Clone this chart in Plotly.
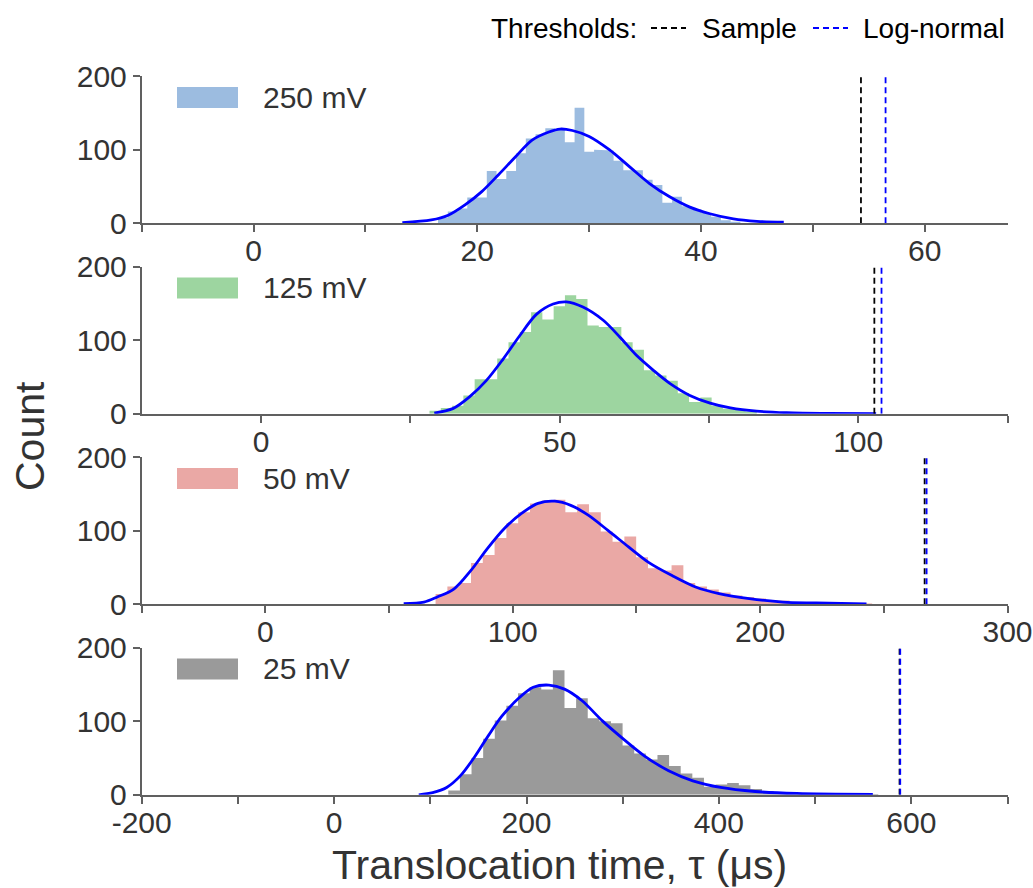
import plotly.graph_objects as go

# ---------------- data ----------------
labels = ["250 mV", "125 mV", "50 mV", "25 mV"]
bar_colors = ["#9cbce0", "#9dd5a0", "#eaa8a5", "#9a9a9a"]

# histogram bins: first left edge and bin width, plus counts
bin_start_250, bin_width_250 = 16.49, 0.872
counts_250 = [8, 16, 20, 35, 35, 71, 60, 71, 95, 115, 121, 129, 127, 110, 157, 97,
              100, 99, 85, 72, 72, 59, 52, 28, 36, 23, 19, 14, 9, 4, 2]

bin_start_125, bin_width_125 = 28.2, 1.89
counts_125 = [4, 8, 11, 25, 47, 47, 75, 97, 111, 138, 128, 146, 161, 156, 120, 118,
              118, 97, 87, 59, 52, 45, 28, 16, 22, 11, 7, 5, 3]

bin_start_50, bin_width_50 = 68.8, 4.77
counts_50 = [14, 24, 29, 56, 67, 90, 110, 125, 137, 141, 142, 125, 136, 125, 99, 85,
             92, 64, 49, 46, 53, 29, 24, 20, 16, 12, 10, 8, 6, 5, 3, 3, 2, 1, 1, 1, 1]

bin_start_25, bin_width_25 = 118.7, 12.08
counts_25 = [6, 28, 50, 76, 101, 121, 138, 146, 143, 169, 118, 131, 104, 100, 97, 67,
             56, 48, 54, 39, 29, 23, 11, 14, 16, 13, 8, 5, 3, 2, 2, 1, 1, 1, 1, 1, 1]

# fitted log-normal curves
fit_x_250 = [13.3, 15.9, 17.4, 18.9, 20.4, 21.9, 23.4, 24.9, 26.4, 27.4, 28.5, 30.0,
             31.8, 33.6, 35.4, 37.2, 39.0, 40.8, 42.9, 45.0, 47.4]
fit_y_250 = [1, 4.5, 11, 25, 43, 66, 90, 113, 124, 128, 126, 118, 100, 77, 54, 36,
             22, 13, 6, 2.7, 1.4]

fit_x_125 = [29, 32.1, 34.9, 37.7, 40.5, 43.3, 46.1, 48.9, 51.1, 53.9, 57.3, 60.1,
             62.9, 65.7, 68.5, 71.8, 75.2, 78.6, 83, 88, 95, 103]
fit_y_125 = [1, 7, 23, 45, 74, 106, 135, 149, 152, 145, 127, 104, 79, 59, 41, 25,
             14.5, 8, 3.6, 1.5, 0.5, 0.2]

fit_x_50 = [55.9, 64.1, 69.5, 76.3, 83.1, 89.8, 96.6, 103.4, 110.2, 117, 123.7, 130.5,
            138.6, 146.8, 154.9, 164.4, 173.9, 183.4, 195.6, 209.2, 222.7, 243]
fit_y_50 = [1, 3, 10, 21, 46, 76, 103, 123, 137, 140, 134, 121, 100, 78, 57, 39,
            23.5, 14.5, 7.7, 3, 1.8, 0.5]

fit_x_25 = [88, 102.5, 117, 131.4, 145.8, 160.2, 174.6, 192.6, 207, 223.3, 239.5,
            257.5, 279.2, 300.8, 322.4, 347.7, 372.9, 401.7, 437.8, 481, 560]
fit_y_25 = [0, 3, 10, 26, 51, 80, 107, 132, 146, 149, 143.5, 128, 100, 75.6, 53,
            32.6, 19, 10, 4.5, 1.8, 0.5]

# thresholds
thr_sample = [54.3, 102.7, 266.5, 587.8]
thr_lognormal = [56.5, 103.9, 267.3, 588.5]

# axes
x_ranges = [[-10, 67.4], [-20, 125], [-50, 300], [-200, 700]]
x_tickvals = [[-10, 0, 10, 20, 30, 40, 50, 60],
              [0, 25, 50, 75, 100, 125],
              [-50, 0, 50, 100, 150, 200, 250, 300],
              [-200, -100, 0, 100, 200, 300, 400, 500, 600, 700]]
x_ticklabels = [["", "0", "", "20", "", "40", "", "60"],
                ["0", "", "50", "", "100", ""],
                ["", "0", "", "100", "", "200", "", "300"],
                ["-200", "", "0", "", "200", "", "400", "", "600", ""]]
y_tickvals = [0, 100, 200]
y_max = 200

bins = [(bin_start_250, bin_width_250, counts_250),
        (bin_start_125, bin_width_125, counts_125),
        (bin_start_50, bin_width_50, counts_50),
        (bin_start_25, bin_width_25, counts_25)]
fits = [(fit_x_250, fit_y_250), (fit_x_125, fit_y_125),
        (fit_x_50, fit_y_50), (fit_x_25, fit_y_25)]

# ---------------- layout geometry ----------------
W, H = 1033, 888
X_L, X_R = 141.7, 1007.5
Y0S = [223.3, 413.8, 604.3, 794.8]  # pixel row of count 0 in each panel
PH = 147.3                          # panel height in px (0..200)

FONT = "Liberation Sans, Arial, sans-serif"
TXT = "#333333"
AX = "#606060"
TICK_SIZE = 30

fig = go.Figure()
layout = dict(
    width=W, height=H, autosize=False,
    margin=dict(l=0, r=0, t=0, b=0, autoexpand=False),
    paper_bgcolor="white", plot_bgcolor="white",
    showlegend=False,
    font=dict(family=FONT, color=TXT, size=TICK_SIZE),
)

annotations = []
shapes = []

for i in range(4):
    sfx = "" if i == 0 else str(i + 1)
    xa, ya = "x" + sfx, "y" + sfx
    start, width, counts = bins[i]
    # step outline of the histogram (filled to zero)
    hx, hy = [start], [0]
    for k, c in enumerate(counts):
        hx += [start + width * k, start + width * (k + 1)]
        hy += [c, c]
    hx.append(start + width * len(counts))
    hy.append(0)
    fig.add_trace(go.Scatter(x=hx, y=hy, mode="lines", fill="toself",
                             fillcolor=bar_colors[i], line=dict(width=0, color=bar_colors[i]),
                             xaxis=xa, yaxis=ya, hoverinfo="skip"))
    fx, fy = fits[i]
    fig.add_trace(go.Scatter(x=fx, y=fy, mode="lines",
                             line=dict(color="#0000ff", width=2.8, shape="spline", smoothing=0.9),
                             xaxis=xa, yaxis=ya, hoverinfo="skip"))
    fig.add_trace(go.Scatter(x=[thr_sample[i], thr_sample[i]], y=[0, y_max], mode="lines",
                             line=dict(color="black", width=1.8, dash="6px,4px"),
                             xaxis=xa, yaxis=ya, hoverinfo="skip"))
    fig.add_trace(go.Scatter(x=[thr_lognormal[i], thr_lognormal[i]], y=[0, y_max], mode="lines",
                             line=dict(color="#0000ff", width=1.8, dash="6px,4px"),
                             xaxis=xa, yaxis=ya, hoverinfo="skip"))

    ybot = (H - Y0S[i]) / H
    ytop = (H - Y0S[i] + PH) / H
    layout["xaxis" + sfx] = dict(
        domain=[X_L / W, X_R / W], anchor=ya, range=x_ranges[i], automargin=False,
        tickmode="array", tickvals=x_tickvals[i], ticktext=x_ticklabels[i],
        ticks="outside", ticklen=7, tickwidth=1.5, tickcolor=AX,
        ticklabelstandoff=-7,
        showline=True, linecolor=AX, linewidth=1.8,
        showgrid=False, zeroline=False,
        tickfont=dict(family=FONT, size=TICK_SIZE, color=TXT),
    )
    layout["yaxis" + sfx] = dict(
        domain=[ybot, ytop], anchor=xa, range=[0, y_max], automargin=False,
        tickmode="array", tickvals=y_tickvals,
        ticks="outside", ticklen=7, tickwidth=1.5, tickcolor=AX,
        showline=True, linecolor=AX, linewidth=1.8,
        showgrid=False, zeroline=False,
        tickfont=dict(family=FONT, size=TICK_SIZE, color=TXT),
    )
    # panel legend patch + label
    shapes.append(dict(type="rect", xref=xa + " domain", yref=ya + " domain",
                       x0=(177 - X_L) / (X_R - X_L), x1=(238 - X_L) / (X_R - X_L),
                       y0=0.783, y1=0.925, fillcolor=bar_colors[i], line=dict(width=0)))
    annotations.append(dict(xref=xa + " domain", yref=ya + " domain",
                            x=(261 - X_L) / (X_R - X_L), y=0.855, xanchor="left", yanchor="middle",
                            text=labels[i], showarrow=False,
                            font=dict(family=FONT, size=TICK_SIZE, color=TXT)))

# axis titles
annotations.append(dict(xref="paper", yref="paper", x=559 / W, y=1 - 865 / H,
                        xanchor="center", yanchor="middle", showarrow=False,
                        text="Translocation time, τ (μs)",
                        font=dict(family=FONT, size=41, color=TXT)))
annotations.append(dict(xref="paper", yref="paper", x=30 / W, y=1 - 436 / H,
                        xanchor="center", yanchor="middle", showarrow=False, textangle=-90,
                        text="Count", font=dict(family=FONT, size=41, color=TXT)))

# thresholds key at top
LEG_Y = 1 - 28 / H
annotations.append(dict(xref="paper", yref="paper", x=489 / W, y=LEG_Y, xanchor="left",
                        yanchor="middle", showarrow=False, text="Thresholds:",
                        font=dict(family=FONT, size=28, color="black")))
annotations.append(dict(xref="paper", yref="paper", x=700 / W, y=LEG_Y, xanchor="left",
                        yanchor="middle", showarrow=False, text="Sample",
                        font=dict(family=FONT, size=28, color="black")))
annotations.append(dict(xref="paper", yref="paper", x=861 / W, y=LEG_Y, xanchor="left",
                        yanchor="middle", showarrow=False, text="Log-normal",
                        font=dict(family=FONT, size=28, color="black")))
shapes.append(dict(type="line", xref="paper", yref="paper", x0=651 / W, x1=686 / W,
                   y0=LEG_Y, y1=LEG_Y, line=dict(color="black", width=1.8, dash="6px,4px")))
shapes.append(dict(type="line", xref="paper", yref="paper", x0=813 / W, x1=848 / W,
                   y0=LEG_Y, y1=LEG_Y, line=dict(color="#0000ff", width=1.8, dash="6px,4px")))

layout["annotations"] = annotations
layout["shapes"] = shapes
fig.update_layout(**layout)
fig.write_html("out.html")
